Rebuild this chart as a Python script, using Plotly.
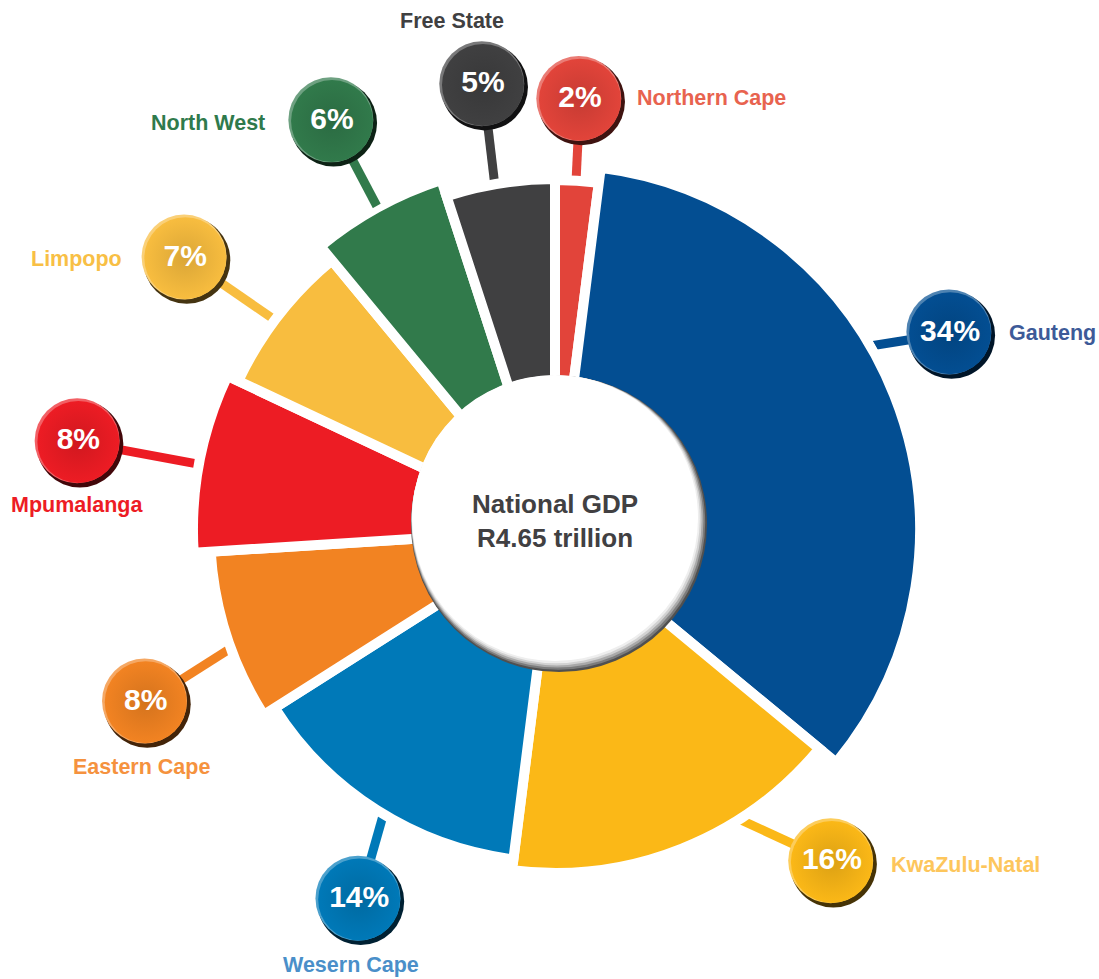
import math
import plotly.graph_objects as go

# --- DATA ---
regions = ["Northern Cape", "Gauteng", "KwaZulu-Natal", "Wesern Cape", "Eastern Cape",
           "Mpumalanga", "Limpopo", "North West", "Free State"]
shares = [2, 34, 16, 14, 8, 8, 7, 6, 5]
slice_colors = ["#e2443a", "#034e92", "#fbb817", "#0079b8", "#f28322",
                "#ed1c24", "#f8bd3f", "#317a4b", "#404041"]
label_colors = ["#e8634f", "#3d5a98", "#fdc65c", "#4a8fc9", "#f5923e",
                "#ed1c24", "#f8bf45", "#2f7a4c", "#404041"]
center_text = "National GDP<br>R4.65 trillion"

# --- LAYOUT CONSTANTS (pixels, figure is 1099x979) ---
W, H = 1099, 979
CX, CY = 555, 520          # centre used for bubbles / centre disc
PCY = 530                  # ring centre (ring is drawn a little lower)
RMAX = 370                 # radial axis extent in px
RING_R = [350, 365, 343, 332, 345, 362, 350, 368, 351]   # outer radius per slice (px)
# bubble placement: angle nudge from slice mid-angle (deg) and distance from centre
BUB_NUDGE = [-0.2, -3.7, -17.4, -5.1, -6.0, -1.5, -2.5, -0.4, -0.4]
BUB_DIST = [421, 437, 440, 427, 448, 483, 453, 457, 441]
LEAD_NUDGE = [0, -9.9, -6.2, -1.2, -2.6, -2.1, -2.2, -1.0, -1.4]
# label offset from bubble (dx, dy down-positive, anchor)
LBL = [(55, -2, "left"), (57, 0, "left"), (57, 3, "left"), (-8, 66, "center"),
       (-4, 65, "center"), (-1, 63, "center"), (-61, 1, "right"), (-65, 2, "right"),
       (-31, -64, "center")]
FONT = "Arial, 'Liberation Sans', sans-serif"


def shade(hexcol, f):
    """f<0 darkens towards black, f>0 lightens towards white"""
    r, g, b = (int(hexcol[i:i + 2], 16) for i in (1, 3, 5))
    if f < 0:
        r, g, b = (int(c * (1 + f)) for c in (r, g, b))
    else:
        r, g, b = (int(c + (255 - c) * f) for c in (r, g, b))
    return f"rgb({r},{g},{b})"


# slice spans / mid-angles (clockwise from 12 o'clock)
total = sum(shares)
spans = [s / total * 360 for s in shares]
mids, acc = [], 0.0
for sp in spans:
    mids.append(acc + sp / 2)
    acc += sp

def polar(ang, dist):
    a = math.radians(ang)
    return dist * math.sin(a), dist * math.cos(a)

bub = [polar(m + n, d) for m, n, d in zip(mids, BUB_NUDGE, BUB_DIST)]
lead = [polar(m + n, 320) for m, n in zip(mids, LEAD_NUDGE)]

fig = go.Figure()

# leader lines (under the ring)
for i in range(len(regions)):
    fig.add_trace(go.Scatter(x=[lead[i][0], bub[i][0]], y=[lead[i][1], bub[i][1]],
                             mode="lines", line=dict(color=slice_colors[i], width=9),
                             hoverinfo="skip"))

bx = [p[0] for p in bub]
by = [p[1] for p in bub]
# bubble: dark rim bottom-right, highlight top-left, main body
fig.add_trace(go.Scatter(x=[x + 1.5 for x in bx], y=[y - 2 for y in by], mode="markers",
                         marker=dict(size=87, color=[shade(c, -0.72) for c in slice_colors],
                                     line_width=0), hoverinfo="skip"))
fig.add_trace(go.Scatter(x=[x - 1.2 for x in bx], y=[y + 1.2 for y in by], mode="markers",
                         marker=dict(size=85, color=[shade(c, 0.3) for c in slice_colors],
                                     line_width=0), hoverinfo="skip"))
fig.add_trace(go.Scatter(x=bx, y=by, mode="markers+text",
                         marker=dict(size=82, color=slice_colors, line_width=0,
                                     gradient=dict(type="radial",
                                                   color=[shade(c, -0.12) for c in slice_colors])),
                         text=[f"{s}%" for s in shares], textposition="middle center",
                         textfont=dict(family=FONT, size=30, color="white", weight="bold"),
                         hoverinfo="skip"))

# ring of slices (white outline gives the gaps)
fig.add_trace(go.Barpolar(
    theta=mids, width=spans, r=RING_R, name="",
    marker=dict(color=slice_colors, line=dict(color="white", width=10)),
    customdata=regions, hovertemplate="%{customdata}<extra></extra>",
))

# centre disc with a drop shadow towards bottom-right
shapes = []
rims = [(148, 4.0, -6.0, "#505050"), (147, 3.2, -4.8, "#7c7c7c"), (146, 2.4, -3.6, "#a9a9a9"),
        (145, 1.6, -2.4, "#d2d2d2"), (144, 0.8, -1.2, "#eeeeee"), (143, 0, 0, "white")]
for r, ox, oy, col in rims:
    shapes.append(dict(type="circle", xref="x", yref="y", layer="above",
                       x0=ox - r, x1=ox + r, y0=oy - r + 2, y1=oy + r + 2,
                       fillcolor=col, line_width=0))

annotations = [dict(x=0, y=-1, xref="x", yref="y", text=center_text, showarrow=False,
                    font=dict(family=FONT, size=26, color="#414042", weight="bold"))]
for i, name in enumerate(regions):
    dx, dy, anc = LBL[i]
    annotations.append(dict(x=bx[i] + dx, y=by[i] - dy, xref="x", yref="y", text=name,
                            showarrow=False, xanchor=anc, yanchor="middle",
                            font=dict(family=FONT, size=21.5, color=label_colors[i], weight="bold")))

pcy_up = H - PCY
fig.update_layout(
    width=W, height=H, margin=dict(l=0, r=0, t=0, b=0),
    paper_bgcolor="white", plot_bgcolor="white", showlegend=False,
    xaxis=dict(range=[-CX, W - CX], visible=False, fixedrange=True),
    yaxis=dict(range=[CY - H, CY], visible=False, fixedrange=True),
    polar=dict(
        domain=dict(x=[(CX - RMAX) / W, (CX + RMAX) / W],
                    y=[(pcy_up - RMAX) / H, (pcy_up + RMAX) / H]),
        bgcolor="rgba(0,0,0,0)",
        radialaxis=dict(range=[0, RMAX], visible=False, showgrid=False),
        angularaxis=dict(rotation=90, direction="clockwise", visible=False, showgrid=False),
    ),
    bargap=0,
    shapes=shapes, annotations=annotations,
)

fig.write_html("out.html", config={"displayModeBar": False},
               post_script="document.body.style.margin='0';")
